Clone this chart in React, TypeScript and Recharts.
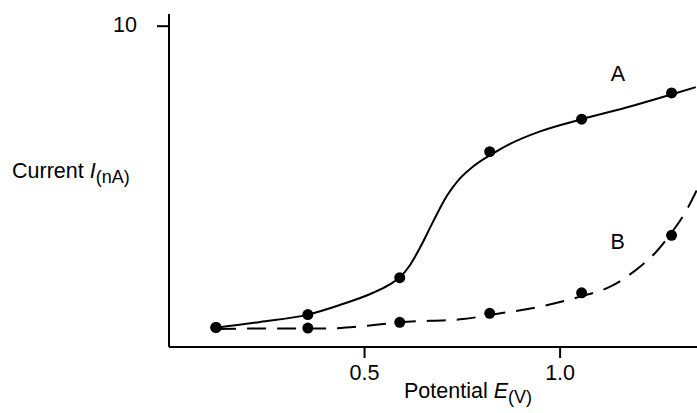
import React from 'react';
import { ComposedChart, Line, Scatter, XAxis, YAxis, ReferenceDot } from 'recharts';

// measured points (potential in V, current in nA)
const pointX = [0.12, 0.355, 0.59, 0.82, 1.055, 1.285];
const pointsAY = [0.61, 1.01, 2.16, 6.09, 7.1, 7.92];
const pointsBY = [0.61, 0.59, 0.77, 1.05, 1.69, 3.48];

// fitted curves
const curveAX = [0.123, 0.233, 0.355, 0.437, 0.522, 0.56, 0.591, 0.616, 0.642, 0.675, 0.711, 0.74, 0.775, 0.828, 0.872, 0.949, 1.056, 1.186, 1.287, 1.347];
const curveAY = [0.61, 0.78, 1.01, 1.31, 1.69, 1.92, 2.18, 2.55, 3.1, 3.9, 4.72, 5.2, 5.6, 6.03, 6.33, 6.72, 7.1, 7.52, 7.88, 8.1];
const curveBX = [0.123, 0.25, 0.404, 0.506, 0.591, 0.752, 0.821, 0.949, 1.051, 1.128, 1.205, 1.243, 1.281, 1.324, 1.35];
const curveBY = [0.56, 0.58, 0.58, 0.66, 0.77, 0.87, 1.0, 1.26, 1.57, 1.88, 2.51, 2.93, 3.5, 4.28, 4.9];

const xTicks = [0.5, 1.0];
const yTicks = [10];

const curveNames = ['A', 'B'];
const curveLabelX = [1.148, 1.147];
const curveLabelY = [8.53, 3.3];

const zip = (xs: number[], ys: number[]) => xs.map((x, i) => ({ x, y: ys[i] }));

const pointsA = zip(pointX, pointsAY);
const pointsB = zip(pointX, pointsBY);
const curveA = zip(curveAX, curveAY);
const curveB = zip(curveBX, curveBY);

const FONT = '"Liberation Sans", Arial, Helvetica, sans-serif';
const SIZE = 21.5;
const SUB = 18;
const axisStyle = { stroke: '#000', strokeWidth: 2 };

const Dot = (p: any) => <circle cx={p.cx} cy={p.cy} r={5.5} fill="#000" />;

const XTick = ({ x, y, payload }: any) => (
  <text x={x} y={y} dy={22} textAnchor="middle" fontSize={SIZE} fontFamily={FONT} fill="#000">
    {Number(payload.value).toFixed(1)}
  </text>
);

const YTick = ({ x, y, payload }: any) => (
  <text x={x} y={y} dx={-20} dy={6} textAnchor="end" fontSize={SIZE} fontFamily={FONT} fill="#000">
    {payload.value}
  </text>
);

const XTitle = () => (
  <text x={404} y={398} fontSize={SIZE} fontFamily={FONT} fill="#000">
    Potential <tspan fontStyle="italic">E</tspan>
    <tspan fontSize={SUB} dy={5}>(V)</tspan>
  </text>
);

const YTitle = () => (
  <text x={12} y={178} fontSize={SIZE} fontFamily={FONT} fill="#000">
    Current <tspan fontStyle="italic">I</tspan>
    <tspan fontSize={SUB} dy={5}>(nA)</tspan>
  </text>
);

export default function App() {
  return (
    <div style={{ position: 'absolute', left: 0, top: 0, background: '#fff' }}>
      <ComposedChart width={697} height={413} margin={{ top: 14, right: 0, bottom: 36, left: 109 }}>
        <XAxis
          type="number"
          dataKey="x"
          domain={[0, 1.35]}
          ticks={xTicks}
          height={30}
          tickSize={11}
          tickMargin={0}
          axisLine={axisStyle}
          tickLine={axisStyle}
          tick={<XTick />}
          allowDataOverflow
          label={{ content: <XTitle /> }}
        />
        <YAxis
          type="number"
          dataKey="y"
          domain={[0, 10.38]}
          ticks={yTicks}
          width={60}
          tickSize={12}
          tickMargin={0}
          axisLine={axisStyle}
          tickLine={axisStyle}
          tick={<YTick />}
          allowDataOverflow
          label={{ content: <YTitle /> }}
        />
        <Line data={curveA} dataKey="y" type="monotone" stroke="#000" strokeWidth={2} dot={false} isAnimationActive={false} />
        <Line
          data={curveB}
          dataKey="y"
          type="monotone"
          stroke="#000"
          strokeWidth={2}
          strokeDasharray="19 11"
          dot={false}
          isAnimationActive={false}
        />
        <Scatter data={pointsA} dataKey="y" shape={Dot} isAnimationActive={false} />
        <Scatter data={pointsB} dataKey="y" shape={Dot} isAnimationActive={false} />
        {curveNames.map((name, i) => (
          <ReferenceDot
            key={name}
            x={curveLabelX[i]}
            y={curveLabelY[i]}
            r={0}
            stroke="none"
            fill="none"
            label={{ value: name, position: 'center', fontSize: SIZE, fontFamily: FONT, fill: '#000' }}
          />
        ))}
      </ComposedChart>
    </div>
  );
}
